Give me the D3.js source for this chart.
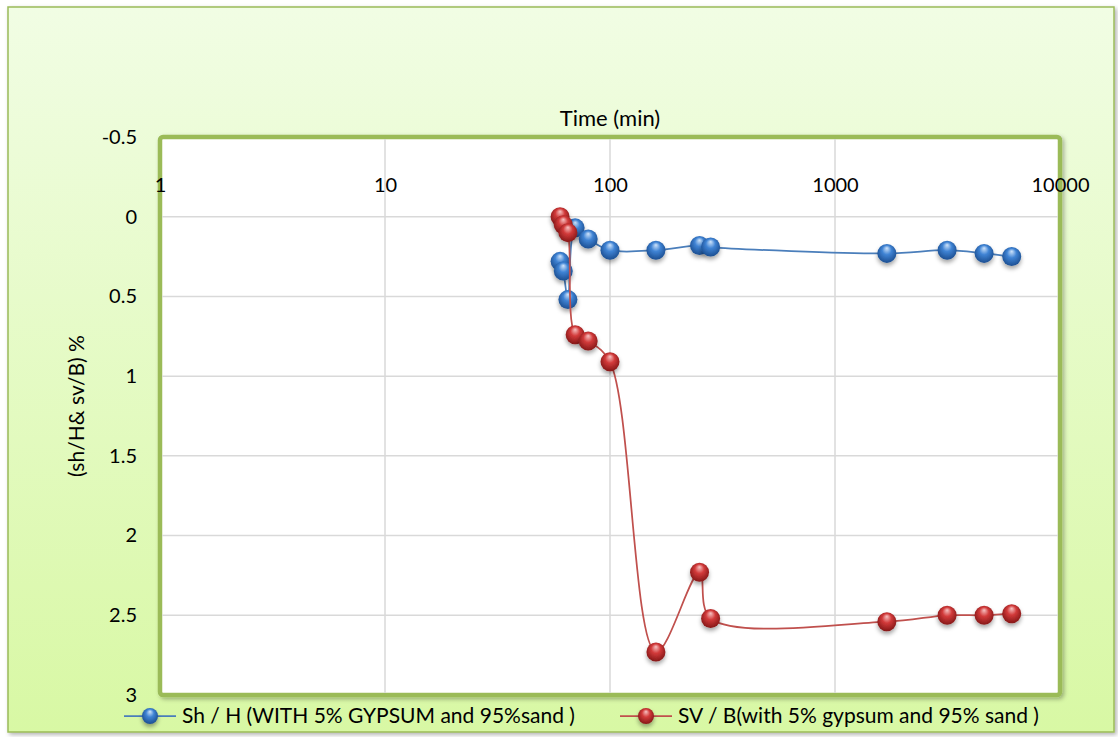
<!DOCTYPE html>
<html>
<head>
<meta charset="utf-8">
<script src="https://cdn.jsdelivr.net/npm/d3@7"></script>
<style>
  body { margin: 0; background: #fff; }
  text { font-family: Lato, "Open Sans", sans-serif; fill: #000; }
</style>
</head>
<body>
<svg width="1118" height="737"></svg>
<script>
// values
var timeMin = [60, 62, 65, 70, 80, 100, 160, 250, 280, 1700, 3150, 4600, 6100];
var shH = [0.28, 0.34, 0.52, 0.07, 0.14, 0.21, 0.21, 0.18, 0.19, 0.23, 0.21, 0.23, 0.25];
var svB = [0.0, 0.05, 0.1, 0.74, 0.78, 0.91, 2.73, 2.23, 2.52, 2.54, 2.5, 2.5, 2.49];
var xTicks = [1, 10, 100, 1000, 10000];
var yTicks = [-0.5, 0, 0.5, 1, 1.5, 2, 2.5, 3];
var seriesNames = ["Sh / H (WITH 5% GYPSUM and 95%sand )", "SV / B(with 5% gypsum and 95% sand )"];

var svg = d3.select("svg"),
    margin = {top: 137, right: 58, bottom: 42, left: 160},
    width = +svg.attr("width") - margin.left - margin.right,
    height = +svg.attr("height") - margin.top - margin.bottom;

var x = d3.scaleLog().domain([1, 10000]).range([0, width]),
    y = d3.scaleLinear().domain([-0.5, 3]).range([0, height]);

var defs = svg.append("defs");

// chart area background
var bg = defs.append("linearGradient").attr("id", "bg")
    .attr("x1", 0).attr("y1", 0).attr("x2", 0).attr("y2", 1);
bg.append("stop").attr("offset", "0%").attr("stop-color", "#f1fde4");
bg.append("stop").attr("offset", "100%").attr("stop-color", "#d8f8a4");

var shadow = defs.append("filter").attr("id", "shadow")
    .attr("x", "-10%").attr("y", "-10%").attr("width", "120%").attr("height", "120%");
shadow.append("feDropShadow").attr("dx", 2).attr("dy", 2).attr("stdDeviation", 2)
    .attr("flood-color", "#000").attr("flood-opacity", 0.3);

var ballShadow = defs.append("filter").attr("id", "ballShadow")
    .attr("x", "-50%").attr("y", "-50%").attr("width", "200%").attr("height", "200%");
ballShadow.append("feDropShadow").attr("dx", 0).attr("dy", 3).attr("stdDeviation", 2)
    .attr("flood-color", "#000").attr("flood-opacity", 0.35);

function sphere(id, light, mid, dark) {
  var g = defs.append("radialGradient").attr("id", id)
      .attr("cx", "50%").attr("cy", "45%").attr("r", "55%")
      .attr("fx", "50%").attr("fy", "22%");
  g.append("stop").attr("offset", "0%").attr("stop-color", light);
  g.append("stop").attr("offset", "45%").attr("stop-color", mid);
  g.append("stop").attr("offset", "100%").attr("stop-color", dark);
}
sphere("ballBlue", "#cfe4fb", "#3f83d4", "#1c4f92");
sphere("ballRed", "#f7c3c3", "#d23a3a", "#861818");

svg.append("rect")
    .attr("x", 8).attr("y", 7).attr("width", 1106).attr("height", 725)
    .attr("fill", "url(#bg)")
    .attr("stroke", "#9bbb59").attr("stroke-width", 1.5)
    .attr("filter", "url(#shadow)");

var g = svg.append("g")
    .attr("transform", "translate(" + margin.left + "," + margin.top + ")");

// plot area
g.append("rect")
    .attr("width", width).attr("height", height)
    .attr("rx", 3)
    .attr("fill", "#fff")
    .attr("stroke", "#9bbb59").attr("stroke-width", 4.5)
    .attr("filter", "url(#shadow)");

// gridlines
g.append("g").selectAll("line.h")
    .data(yTicks.filter(function(d) { return d > -0.5 && d < 3; }))
  .enter().append("line")
    .attr("x1", 2).attr("x2", width - 2)
    .attr("y1", function(d) { return y(d); })
    .attr("y2", function(d) { return y(d); })
    .attr("stroke", "#d9d9d9").attr("stroke-width", 1.5);

g.append("g").selectAll("line.v")
    .data(xTicks.slice(1, -1))
  .enter().append("line")
    .attr("y1", 2).attr("y2", height - 2)
    .attr("x1", function(d) { return x(d); })
    .attr("x2", function(d) { return x(d); })
    .attr("stroke", "#d9d9d9").attr("stroke-width", 1.5);

// x axis labels sit inside the plot, near the top
g.append("g")
    .attr("transform", "translate(0,48)")
    .call(d3.axisTop(x).tickValues(xTicks).tickFormat(d3.format("d")).tickSize(0).tickPadding(0))
    .call(function(a) { a.select(".domain").remove(); })
    .selectAll("text")
      .attr("dy", "0.35em")
      .style("font-size", "20px");

// y axis
g.append("g")
    .call(d3.axisLeft(y).tickValues(yTicks).tickFormat(function(d) { return d; }).tickSize(0).tickPadding(23))
    .call(function(a) { a.select(".domain").remove(); })
    .selectAll("text")
      .style("font-size", "20px");

// axis titles
svg.append("text")
    .attr("x", 610).attr("y", 118)
    .attr("text-anchor", "middle").attr("dy", "0.35em")
    .style("font-size", "22px")
    .text("Time (min)");

svg.append("text")
    .attr("transform", "translate(77,406) rotate(-90)")
    .attr("text-anchor", "middle").attr("dy", "0.35em")
    .style("font-size", "21px")
    .text("(sh/H& sv/B) %");

// series
var series = [
  {name: seriesNames[0], values: shH, line: "#4a7ebb", ball: "url(#ballBlue)"},
  {name: seriesNames[1], values: svB, line: "#c0504d", ball: "url(#ballRed)"}
];

var line = d3.line()
    .x(function(d) { return x(d.t); })
    .y(function(d) { return y(d.v); })
    .curve(d3.curveCatmullRom.alpha(0.5));

series.forEach(function(s) {
  var pts = timeMin.map(function(t, i) { return {t: t, v: s.values[i]}; });
  g.append("path")
      .datum(pts)
      .attr("fill", "none")
      .attr("stroke", s.line)
      .attr("stroke-width", 1.75)
      .attr("d", line);
  g.append("g").selectAll("circle")
      .data(pts)
    .enter().append("circle")
      .attr("cx", function(d) { return x(d.t); })
      .attr("cy", function(d) { return y(d.v); })
      .attr("r", 9.5)
      .attr("fill", s.ball)
      .attr("filter", "url(#ballShadow)");
});

// legend
var legendX = [124, 620];
series.forEach(function(s, i) {
  var lg = svg.append("g").attr("transform", "translate(" + legendX[i] + ",716)");
  lg.append("line").attr("x1", 0).attr("x2", 52)
      .attr("stroke", s.line).attr("stroke-width", 1.75);
  lg.append("circle").attr("cx", 26).attr("r", 8)
      .attr("fill", s.ball).attr("filter", "url(#ballShadow)");
  lg.append("text").attr("x", 58).attr("dy", "0.35em")
      .style("font-size", "21px")
      .text(s.name);
});
</script>
</body>
</html>
